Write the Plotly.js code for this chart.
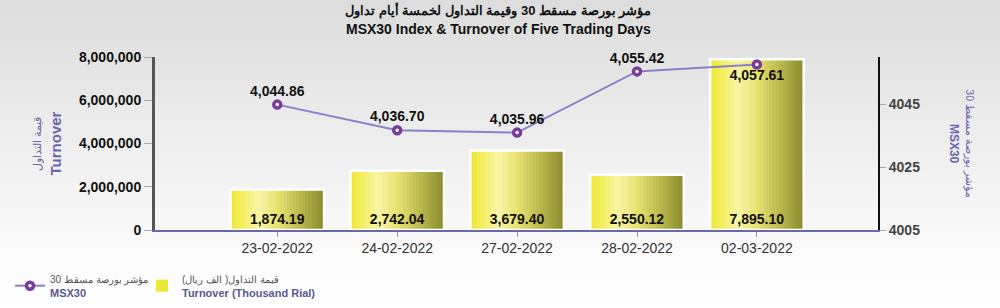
<!DOCTYPE html>
<html>
<head>
<meta charset="utf-8">
<script src="https://cdn.plot.ly/plotly-3.0.1.min.js"></script>
<style>
html,body{margin:0;padding:0;}
#chart{width:1000px;height:308px;background:linear-gradient(to bottom,#dcdcdc 0%,#ececec 40%,#fafafa 80%,#ffffff 100%);}
</style>
</head>
<body>
<div id="chart"></div>
<script>
// ---- data ----
const dates = ["23-02-2022","24-02-2022","27-02-2022","28-02-2022","02-03-2022"];
const turnoverThousand = [1874.19, 2742.04, 3679.40, 2550.12, 7895.10];
const msx30 = [4044.86, 4036.70, 4035.96, 4055.42, 4057.61];
const turnoverLabels = ["1,874.19","2,742.04","3,679.40","2,550.12","7,895.10"];
const msx30Labels = ["4,044.86","4,036.70","4,035.96","4,055.42","4,057.61"];
const leftTicks = [0, 2000000, 4000000, 6000000, 8000000];
const leftTickText = ["0","2,000,000","4,000,000","6,000,000","8,000,000"];
const rightTicks = [4005, 4025, 4045];

// bar heights on the left axis (thousand rial values shown as labels)
const turnoverAxis = turnoverThousand.map(v => v * 1000);

// ---- styling helpers ----
const FONT = "Liberation Sans, Arial, sans-serif";
const gradStops = [
  [0.00, [238, 230, 52]],
  [0.08, [242, 236, 80]],
  [0.30, [249, 245, 165]],
  [0.50, [232, 226, 112]],
  [0.75, [186, 184, 76]],
  [1.00, [138, 138, 46]]
];
function gradColor(t){
  for(let k=0;k<gradStops.length-1;k++){
    const a=gradStops[k], b=gradStops[k+1];
    if(t>=a[0] && t<=b[0]){
      const f=(t-a[0])/(b[0]-a[0]);
      const c=a[1].map((v,j)=>Math.round(v+(b[1][j]-v)*f));
      return `rgb(${c[0]},${c[1]},${c[2]})`;
    }
  }
  const c=gradStops[gradStops.length-1][1];
  return `rgb(${c[0]},${c[1]},${c[2]})`;
}

const BW = 0.78;
const N = 30;
const traces = [];
for(let i=0;i<N;i++){
  const t = (i+0.5)/N;
  traces.push({
    type:"bar", x:dates, y:turnoverAxis, yaxis:"y",
    width: Array(dates.length).fill(BW/N*1.25),
    offset: Array(dates.length).fill(-BW/2 + i*BW/N),
    marker:{color: i===0 ? "#eee834" : gradColor(t), line:{width:0}},
    name:'<span style="color:#555;font-size:10px">قيمة التداول( الف ريال)</span><br><b><span style="color:#5a5890">Turnover (Thousand Rial)</span></b>',
    showlegend: i===0, legend:"legend2", hoverinfo:"skip"
  });
}
// outline + labels
traces.push({
  type:"bar", x:dates, y:turnoverAxis, yaxis:"y",
  width: Array(dates.length).fill(BW),
  marker:{color:"rgba(0,0,0,0)", line:{color:"#ffffff", width:2.5}},
  text: turnoverLabels, texttemplate:"<b>%{text}</b>",
  textposition:"inside", insidetextanchor:"start", constraintext:"none",
  textfont:{family:FONT, size:14, color:"#111"},
  showlegend:false, hoverinfo:"skip"
});
// MSX30 line
traces.push({
  type:"scatter", mode:"lines+markers+text", x:dates, y:msx30, yaxis:"y2",
  line:{color:"#8a80c4", width:2},
  marker:{size:7, color:"#ffffff", line:{color:"#7a3c9c", width:3.5}},
  text: msx30Labels, texttemplate:"<b>%{text}</b>",
  textposition:["top center","top center","top center","top center","bottom center"],
  textfont:{family:FONT, size:14, color:"#111"},
  name:'<span style="color:#555;font-size:10px">مؤشر بورصة مسقط 30</span><br><b><span style="color:#5a5890">MSX30</span></b>',
  legend:"legend", cliponaxis:false
});

const legendBase = {
  orientation:"h", xref:"container", yref:"container",
  xanchor:"left", yanchor:"top",
  font:{family:FONT, size:11}, bgcolor:"rgba(0,0,0,0)"
};

const layout = {
  width:1000, height:308,
  margin:{l:155, r:122, t:57, b:78},
  paper_bgcolor:"rgba(0,0,0,0)", plot_bgcolor:"rgba(0,0,0,0)",
  font:{family:FONT},
  barmode:"overlay", bargap:0,
  showlegend:true,
  xaxis:{
    type:"category", range:[-1.02, 5.01],
    showline:true, linecolor:"#6a68a8", linewidth:1.5,
    ticks:"outside", ticklen:5, tickcolor:"#999", tickwidth:1,
    tickfont:{family:FONT, size:14, color:"#333"},
    showgrid:false, zeroline:false, fixedrange:true
  },
  yaxis:{
    range:[0, 8000000], tickvals:leftTicks, ticktext:leftTickText,
    showline:true, linecolor:"#555", linewidth:3,
    ticks:"outside", ticklen:8, tickcolor:"#aaa", tickwidth:1,
    tickfont:{family:FONT, size:14, color:"#111", weight:"bold"},
    showgrid:false, zeroline:false
  },
  yaxis2:{
    overlaying:"y", side:"right", range:[4005, 4060], tickvals:rightTicks,
    showline:true, linecolor:"#111", linewidth:2,
    ticks:"outside", ticklen:6, tickcolor:"#aaa", tickwidth:1,
    tickfont:{family:FONT, size:14, color:"#444", weight:"bold"},
    showgrid:false, zeroline:false
  },
  legend:Object.assign({}, legendBase, {x:0.01, y:0.14}),
  legend2:Object.assign({}, legendBase, {x:0.142, y:0.14}),
  annotations:[
    {xref:"paper", yref:"paper", x:0.475, y:1.27, showarrow:false,
     text:"<b>مؤشر بورصة مسقط 30 وقيمة التداول لخمسة أيام تداول</b>",
     font:{family:FONT, size:13, color:"#111"}, xanchor:"center", yanchor:"middle"},
     {xref:"paper", yref:"paper", x:0.475, y:1.162, showarrow:false,
     text:"<b>MSX30 Index &amp; Turnover of Five Trading Days</b>",
     font:{family:FONT, size:14, color:"#111"}, xanchor:"center", yanchor:"middle"},
    {xref:"paper", yref:"paper", x:-0.148, y:0.5, textangle:-90, showarrow:false,
     text:'<span style="font-size:10.5px">قيمة التداول</span><br><b>Turnover</b>',
     font:{family:FONT, size:15, color:"#6e66aa"}, xanchor:"center", yanchor:"middle"},
    {xref:"paper", yref:"paper", x:1.115, y:0.5, textangle:90, showarrow:false,
     text:'<span style="font-size:10.5px">مؤشر بورصة مسقط 30</span><br><b>MSX30</b>',
     font:{family:FONT, size:12, color:"#6e66aa"}, xanchor:"center", yanchor:"middle"}
  ]
};

Plotly.newPlot("chart", traces, layout, {displayModeBar:false, staticPlot:true});
</script>
</body>
</html>
